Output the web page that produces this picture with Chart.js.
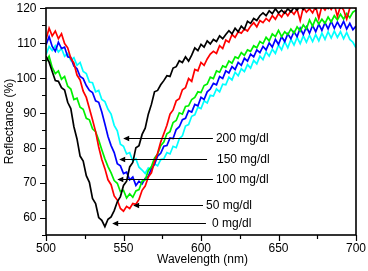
<!DOCTYPE html>
<html>
<head>
<meta charset="utf-8">
<script src="https://cdn.jsdelivr.net/npm/chart.js@4.4.1/dist/chart.umd.min.js"></script>
<style>
  body { margin:0; background:#fff; }
  #wrap { width:368px; height:271px; }
</style>
</head>
<body>
<div id="wrap"><canvas id="chart" width="368" height="271"></canvas></div>
<script>
/* ---- data (reflectance %, sampled every 2 nm) ---- */
const wavelength = Array.from({ length: 101 }, (_, i) => 500 + i * 2);

const r0 = [106.2,104.5,101.8,99.2,99.0,97.2,96.5,93.0,91.2,86.0,82.5,77.6,76.2,72.0,70.1,65.5,64.0,60.0,59.2,57.4,
  59.5,60.2,62.0,64.5,66.0,69.2,70.4,74.5,75.8,80.0,80.6,83.8,85.6,89.6,92.4,96.0,96.4,98.0,99.2,100.6,
  100.4,102.8,103.2,104.9,104.4,106.0,104.8,106.5,108.6,107.8,109.6,108.8,110.6,109.7,111.0,110.4,112.0,111.2,112.4,113.5,
  112.6,114.2,113.2,114.8,113.9,116.2,115.6,117.0,116.4,117.8,118.6,117.8,119.2,118.4,119.8,118.6,119.4,118.5,119.8,118.9,
  120.2,119.4,120.6,119.6,121.0,120.2,121.2,119.8,121.4,120.4,121.0,119.9,121.3,120.5,121.5,120.1,121.2,120.6,121.4,120.3,121.0];

const r50 = [111.0,114.2,112.0,113.4,111.2,112.6,109.8,108.6,105.6,104.2,100.8,99.4,96.2,94.4,91.2,88.0,84.6,80.2,76.6,74.0,
  70.8,69.4,66.2,65.0,62.6,61.8,63.2,62.6,64.0,63.8,65.2,67.8,69.0,71.6,72.8,76.0,78.4,81.6,84.0,86.4,
  89.6,90.8,93.4,94.0,96.6,97.2,99.8,99.0,102.4,102.0,104.4,103.6,105.4,106.8,107.6,107.0,109.2,108.4,110.8,110.2,
  112.4,111.6,113.2,112.8,114.0,113.4,114.8,115.8,114.6,116.4,115.8,117.0,116.2,117.8,116.8,118.4,117.4,119.0,117.8,119.2,
  118.2,119.6,116.4,120.2,118.8,119.8,118.6,120.4,117.0,120.6,119.4,120.8,119.6,121.0,117.6,120.6,119.4,116.8,120.0,120.6,119.8];

const r100 = [104.6,106.2,103.0,101.2,102.0,99.6,100.4,97.6,96.8,93.8,94.2,91.6,91.0,88.4,88.0,85.4,84.6,82.2,79.4,76.8,
  74.6,72.8,70.6,69.8,67.4,67.8,65.6,66.8,65.8,67.6,68.0,70.4,70.8,73.4,74.6,77.0,78.2,80.6,81.6,84.0,
  84.6,87.2,87.8,90.0,89.6,91.8,92.0,93.8,94.4,96.0,95.8,97.8,98.2,100.2,99.8,102.0,101.6,103.4,103.0,104.8,
  104.2,106.0,105.6,107.2,106.4,108.0,107.6,109.2,108.6,110.4,109.8,111.6,110.6,112.6,111.8,113.6,111.8,113.2,112.4,114.0,
  112.8,114.6,113.4,115.2,114.0,116.6,114.8,117.0,115.4,116.8,115.6,117.4,116.0,117.8,116.6,118.2,116.8,118.4,117.2,118.8,119.4];

const r150 = [109.4,111.8,109.0,107.6,110.2,108.4,108.8,106.0,105.8,103.4,102.6,100.4,99.8,97.8,96.4,95.8,93.4,93.0,90.2,86.8,
  83.2,80.6,78.6,75.4,74.8,72.6,73.0,70.8,71.6,69.2,70.4,69.6,71.2,71.8,74.0,75.2,77.6,78.4,80.4,80.6,
  82.8,82.6,85.2,86.0,88.0,88.4,90.6,90.2,92.4,92.0,94.4,93.8,96.0,96.8,98.4,98.0,100.4,99.8,102.0,101.4,
  103.2,102.4,104.4,103.6,105.6,104.8,106.8,106.0,108.0,107.2,109.0,108.0,110.0,108.8,111.0,109.6,111.8,110.4,112.6,111.2,
  113.2,111.8,114.2,112.4,114.6,112.8,115.0,113.2,115.4,113.6,115.8,114.0,116.2,114.2,116.0,114.4,116.2,114.0,115.6,113.8,114.8];

const r200 = [106.6,109.0,107.8,109.2,107.4,108.4,106.2,107.0,105.0,105.8,103.6,104.4,101.8,101.2,98.8,98.6,96.0,96.4,93.8,93.2,
  91.0,89.6,86.4,84.8,81.0,80.4,78.2,78.6,76.2,76.8,74.4,73.6,72.6,74.2,73.6,75.4,74.8,76.6,76.8,78.6,
  78.2,80.4,80.0,82.6,83.4,86.2,86.6,89.0,89.4,91.6,91.2,93.4,92.8,95.0,94.8,96.8,96.0,98.2,98.0,100.2,
  99.4,101.6,100.6,102.6,101.8,103.8,102.8,105.0,104.0,106.2,105.2,107.4,106.2,108.2,107.0,109.4,108.0,110.4,108.6,111.0,
  109.4,111.6,109.8,112.0,110.2,112.2,110.4,112.4,110.6,112.8,111.0,113.2,111.4,113.4,111.6,113.2,111.2,113.0,111.0,110.2,108.6];

const seriesNames  = ['0 mg/dl', '50 mg/dl', '100 mg/dl', '150 mg/dl', '200 mg/dl'];
const seriesValues = [r0, r50, r100, r150, r200];
const seriesColors = ['#000000', '#ff0000', '#00f000', '#0000ff', '#00ffff'];

const xTicks = [500, 550, 600, 650, 700];
const yTicks = [60, 70, 80, 90, 100, 110, 120];
const xTitle = 'Wavelength (nm)';
const yTitle = 'Reflectance (%)';

/* arrow labels: y level, arrow head and tail along x, text start (data units) */
const notes = [
  { text:'200 mg/dl', y:82.9, head:549.8, tail:607.7, tx:609.6 },
  { text:'150 mg/dl', y:76.9, head:547.2, tail:603.9, tx:610.3 },
  { text:'100 mg/dl', y:70.9, head:546.0, tail:607.7, tx:609.6 },
  { text:'50 mg/dl',  y:63.5, head:556.2, tail:601.3, tx:603.2 },
  { text:'0 mg/dl',   y:58.4, head:542.7, tail:603.2, tx:607.1 }
];

const FONT = '12px "Liberation Sans", Arial, Helvetica, sans-serif';

/* box, ticks, tick labels, titles and arrow annotations */
const framePlugin = {
  id: 'frame',
  afterDatasetsDraw(chart) {
    const { ctx, chartArea: a, scales: { x, y } } = chart;
    ctx.save();
    ctx.strokeStyle = '#000';
    ctx.fillStyle = '#000';
    ctx.lineWidth = 1.6;
    ctx.strokeRect(a.left, a.top, a.right - a.left, a.bottom - a.top);

    // ticks (major + minor), outward
    ctx.lineWidth = 1.2;
    ctx.beginPath();
    for (let v = 500; v <= 700; v += 25) {
      const px = Math.round(x.getPixelForValue(v)) + 0.5;
      ctx.moveTo(px, a.bottom);
      ctx.lineTo(px, a.bottom + (v % 50 === 0 ? 6 : 4));
    }
    for (let v = 55; v <= 120; v += 5) {
      const py = Math.round(y.getPixelForValue(v)) + 0.5;
      ctx.moveTo(a.left, py);
      ctx.lineTo(a.left - (v % 10 === 0 ? 6 : 4), py);
    }
    ctx.stroke();

    // tick labels
    ctx.font = FONT;
    ctx.textBaseline = 'middle';
    ctx.textAlign = 'center';
    xTicks.forEach(v => ctx.fillText(String(v), x.getPixelForValue(v), a.bottom + 13.5));
    ctx.textAlign = 'right';
    yTicks.forEach(v => ctx.fillText(String(v), a.left - 9.5, y.getPixelForValue(v) + 0.5));

    // axis titles
    ctx.textAlign = 'center';
    ctx.fillText(xTitle, (a.left + a.right) / 2 + 1.5, a.bottom + 24.5);
    ctx.save();
    ctx.translate(9.5, (a.top + a.bottom) / 2);
    ctx.rotate(-Math.PI / 2);
    ctx.fillText(yTitle, 0, 0);
    ctx.restore();

    // arrows with concentration labels
    ctx.lineWidth = 1;
    ctx.textAlign = 'left';
    notes.forEach(n => {
      const py = Math.round(y.getPixelForValue(n.y)) + 0.5;
      const hx = x.getPixelForValue(n.head);
      const tx = x.getPixelForValue(n.tail);
      ctx.beginPath();
      ctx.moveTo(tx, py);
      ctx.lineTo(hx + 4, py);
      ctx.stroke();
      ctx.beginPath();
      ctx.moveTo(hx, py);
      ctx.lineTo(hx + 6, py - 2.8);
      ctx.lineTo(hx + 6, py + 2.8);
      ctx.closePath();
      ctx.fill();
      ctx.fillText(n.text, x.getPixelForValue(n.tx), py + 0.5);
    });
    ctx.restore();
  }
};

new Chart(document.getElementById('chart'), {
  type: 'line',
  data: {
    datasets: seriesValues.map((vals, i) => ({
      label: seriesNames[i],
      data: vals.map((v, j) => ({ x: wavelength[j], y: v })),
      borderColor: seriesColors[i],
      backgroundColor: seriesColors[i],
      borderWidth: 1.7,
      pointRadius: 0,
      tension: 0
    }))
  },
  options: {
    responsive: false,
    animation: false,
    events: [],
    layout: { padding: { left: 46, right: 12, top: 8, bottom: 36 } },
    plugins: { legend: { display: false }, tooltip: { enabled: false } },
    scales: {
      x: { type: 'linear', min: 500, max: 700, display: false },
      y: { type: 'linear', min: 55, max: 120, display: false }
    }
  },
  plugins: [framePlugin]
});
</script>
</body>
</html>
